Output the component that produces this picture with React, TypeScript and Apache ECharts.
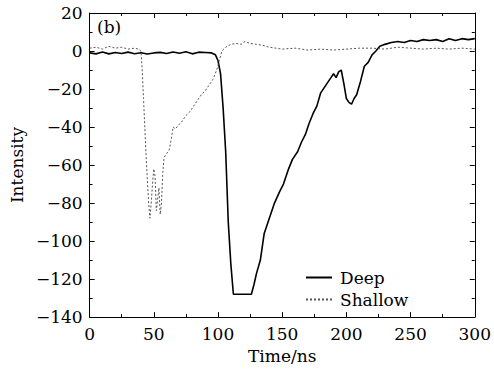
import React, { useEffect, useRef } from "react";
import * as echarts from "echarts";

const deepTime = [0,5,10,15,20,25,30,35,40,45,50,55,60,65,70,75,80,85,90,95,98,100,102,104,106,108,110,112,126,128,130,133,136,140,144,148,151,155,158,162,165,168,171,174,177,180,183,186,188,190,192,194,196,198,200,202,204,206,208,211,214,217,220,223,226,230,235,240,245,250,255,260,265,270,275,280,285,290,295,300];
const deepValues = [-1,-1.5,-0.5,-1.5,-0.8,-1.3,-0.6,-1.4,-0.9,-1.6,-1,-0.7,-1.3,-0.5,-1.2,-0.4,-1.5,-0.6,-0.8,-1,-2,-5,-12,-30,-53,-90,-112,-128,-128,-123,-117,-110,-96,-88,-80,-74,-70,-62,-57,-53,-48,-44,-38,-33,-29,-22,-19,-16,-14,-12,-14,-11,-10,-17,-25,-27,-28,-25,-23,-16,-8,-6,-2,0,2.5,3.5,4.5,5,4.5,5.5,5,6,5.5,6,5,6.5,5.5,6.5,6,6.5];

const shallowTime = [0,5,10,15,20,25,30,35,38,40,41,42,43,44,45,46,47,48,49,50,51,52,53,54,55,56,57,58,60,62,64,65,67,69,71,73,75,78,81,84,87,90,93,96,99,101,103,106,110,114,118,121,125,130,135,140,145,150,160,170,180,190,200,210,220,230,240,250,260,270,280,290,300];
const shallowValues = [1.5,2,1,2.5,1.5,2,1,1.5,1,0,-10,-25,-40,-55,-68,-80,-88,-80,-70,-62,-66,-84,-78,-72,-86,-80,-64,-56,-54,-52,-45,-40,-41,-39,-38,-36,-34,-32,-29,-26,-23,-21,-18,-15,-10,-5,0,2,3.5,4,3.5,5,4,3.5,3,2,1.5,1,1.5,0.5,1,0.5,1,1.5,1.5,1,2,1.5,1,1.5,1,1.5,1];

const seriesNames = ["Deep", "Shallow"];
const xTicks = [0, 50, 100, 150, 200, 250, 300];
const yTicks = [-140, -120, -100, -80, -60, -40, -20, 0, 20];

const FONT = "DejaVu Serif";

export default function App() {
  const ref = useRef<HTMLDivElement>(null);
  useEffect(() => {
    if (!ref.current) return;
    const chart = echarts.init(ref.current, undefined, { renderer: "svg" });
    const fmt = (v: number) => (v < 0 ? "\u2212" + Math.abs(v) : String(v));
    const axisCommon = {
      axisLine: { show: true, onZero: false, lineStyle: { color: "#000", width: 1 } },
      axisTick: { show: true, inside: true, length: 5, lineStyle: { color: "#000" } },
      minorTick: { show: true, splitNumber: 2, length: 3, lineStyle: { color: "#000" } },
      splitLine: { show: false },
    };
    chart.setOption({
      animation: false,
      backgroundColor: "#fff",
      textStyle: { fontFamily: FONT },
      grid: { left: 89, right: 15, top: 13, bottom: 49 },
      legend: {
        orient: "vertical",
        left: 300,
        top: 264,
        itemWidth: 26,
        itemHeight: 10,
        itemGap: 5,
        itemStyle: { opacity: 0 },
        data: seriesNames,
        textStyle: { fontFamily: FONT, fontSize: 17, color: "#000", padding: [0, 0, 0, 3] },
      },
      xAxis: [
        {
          type: "value", min: xTicks[0], max: xTicks[xTicks.length - 1], interval: 50,
          position: "bottom", ...axisCommon,
          axisLabel: { fontFamily: FONT, fontSize: 17, color: "#000", margin: 8, formatter: fmt },
          name: "Time/ns", nameLocation: "middle", nameGap: 26,
          nameTextStyle: { fontFamily: FONT, fontSize: 17, color: "#000" },
        },
        {
          type: "value", min: 0, max: 300, interval: 50, position: "top", ...axisCommon,
          axisLabel: { show: false },
        },
      ],
      yAxis: [
        {
          type: "value", min: yTicks[0], max: yTicks[yTicks.length - 1], interval: 20,
          position: "left", ...axisCommon,
          axisLabel: { fontFamily: FONT, fontSize: 17, color: "#000", margin: 7, formatter: fmt },
          name: "Intensity", nameLocation: "middle", nameGap: 54,
          nameTextStyle: { fontFamily: FONT, fontSize: 17, color: "#000" },
        },
        {
          type: "value", min: -140, max: 20, interval: 20, position: "right", ...axisCommon,
          axisLabel: { show: false },
        },
      ],
      graphic: [
        { type: "text", left: 97, top: 18, style: { text: "(b)", fontFamily: FONT, fontSize: 17, fill: "#000" } },
      ],
      series: [
        {
          name: seriesNames[0], type: "line", symbol: "none", showSymbol: false,
          data: deepTime.map((t, i) => [t, deepValues[i]]),
          lineStyle: { color: "#000", width: 1.6 }, itemStyle: { color: "#000" },
        },
        {
          name: seriesNames[1], type: "line", symbol: "none", showSymbol: false,
          data: shallowTime.map((t, i) => [t, shallowValues[i]]),
          lineStyle: { color: "#555", width: 1, type: [2, 2] }, itemStyle: { color: "#555" },
        },
      ],
    });
    return () => chart.dispose();
  }, []);
  return <div ref={ref} style={{ width: 494, height: 369, position: "absolute", left: 0, top: 0 }} />;
}
